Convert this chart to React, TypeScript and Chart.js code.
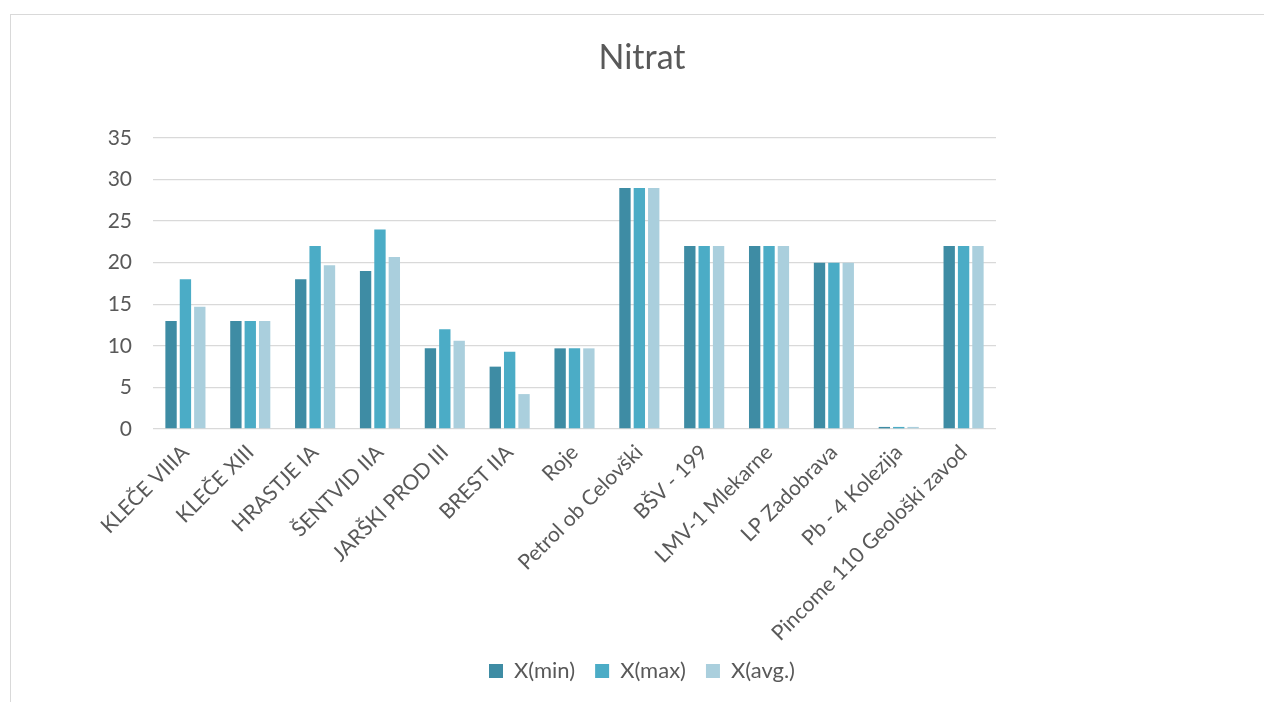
import React, { useEffect, useRef } from 'react';
import { Chart, registerables } from 'chart.js';

Chart.register(...registerables);

const titleText = 'Nitrat';
const categories = [
  'KLEČE VIIIA',
  'KLEČE XIII',
  'HRASTJE IA',
  'ŠENTVID IIA',
  'JARŠKI PROD III',
  'BREST IIA',
  'Roje',
  'Petrol ob Celovški',
  'BŠV - 199',
  'LMV-1 Mlekarne',
  'LP Zadobrava',
  'Pb - 4 Kolezija',
  'Pincome 110 Geološki zavod',
];
const seriesNames = ['X(min)', 'X(max)', 'X(avg.)'];
const xMin = [13, 13, 18, 19, 9.7, 7.5, 9.7, 29, 22, 22, 20, 0.25, 22];
const xMax = [18, 13, 22, 24, 12, 9.3, 9.7, 29, 22, 22, 20, 0.25, 22];
const xAvg = [14.7, 13, 19.7, 20.7, 10.6, 4.2, 9.7, 29, 22, 22, 20, 0.25, 22];
const yTicks = [0, 5, 10, 15, 20, 25, 30, 35];

const colors = ['rgb(62,140,164)', 'rgb(75,172,198)', 'rgb(170,207,221)'];
const FONT = 'Lato, "Open Sans", sans-serif';
const TEXT = '#595959';

const LEGEND_FONT = 22;
const LEGEND_PAD = 20;
const CANVAS_H = 678;
const LEGEND_H = LEGEND_FONT + LEGEND_PAD + 10;
const PLOT_BOTTOM = 415;

export default function App() {
  const ref = useRef<HTMLCanvasElement | null>(null);

  useEffect(() => {
    if (!ref.current) return;
    const values = [xMin, xMax, xAvg];
    const chart = new Chart(ref.current, {
      type: 'bar',
      data: {
        labels: categories,
        datasets: seriesNames.map((name, i) => ({
          label: name,
          data: values[i],
          backgroundColor: colors[i],
          borderWidth: 0,
          categoryPercentage: 0.665,
          barPercentage: 0.79,
        })),
      },
      options: {
        animation: false,
        responsive: false,
        maintainAspectRatio: false,
        devicePixelRatio: 1,
        layout: { padding: 0 },
        plugins: {
          title: {
            display: true,
            text: titleText,
            color: TEXT,
            font: { family: FONT, size: 34, weight: 'normal' },
            padding: { top: 24, bottom: 59.2 },
          },
          legend: {
            position: 'bottom',
            labels: {
              color: TEXT,
              font: { family: FONT, size: LEGEND_FONT },
              boxWidth: 14,
              boxHeight: 14,
              padding: LEGEND_PAD,
            },
          },
          tooltip: { enabled: false },
        },
        scales: {
          x: {
            grid: { display: false, drawTicks: false },
            border: { display: false },
            ticks: {
              color: TEXT,
              font: { family: FONT, size: 21 },
              minRotation: 45,
              maxRotation: 45,
              autoSkip: false,
              padding: 11,
            },
            afterFit: (s: any) => {
              s.height = CANVAS_H - LEGEND_H - PLOT_BOTTOM;
            },
            afterUpdate: (s: any) => {
              // let the long rotated labels run past the axis box, as in the original
              s._computeLabelArea = () => undefined;
            },
          },
          y: {
            min: 0,
            max: 35,
            afterBuildTicks: (s: any) => {
              s.ticks = yTicks.map((v) => ({ value: v }));
            },
            grid: { color: '#d9d9d9', lineWidth: 1.3, drawTicks: false },
            border: { display: false },
            ticks: {
              color: TEXT,
              font: { family: FONT, size: 21 },
              padding: 21,
            },
            afterFit: (s: any) => {
              s.width = 143;
            },
          },
          y2: {
            position: 'right',
            display: true,
            grid: { display: false, drawTicks: false },
            border: { display: false },
            ticks: { display: false },
            afterFit: (s: any) => {
              s.width = 278;
            },
          },
        },
      },
    });
    return () => chart.destroy();
  }, []);

  return (
    <div
      style={{
        position: 'fixed',
        left: 0,
        top: 0,
        width: 1264,
        height: 702,
        overflow: 'hidden',
        background: '#ffffff',
      }}
    >
      <div
        style={{
          position: 'absolute',
          left: 10,
          top: 14,
          width: 1400,
          height: 900,
          borderTop: '1.5px solid #d9d9d9',
          borderLeft: '1.5px solid #d9d9d9',
        }}
      />
      <canvas
        ref={ref}
        width={1264}
        height={CANVAS_H}
        style={{ position: 'absolute', left: 10, top: 14, width: 1264, height: CANVAS_H }}
      />
    </div>
  );
}
